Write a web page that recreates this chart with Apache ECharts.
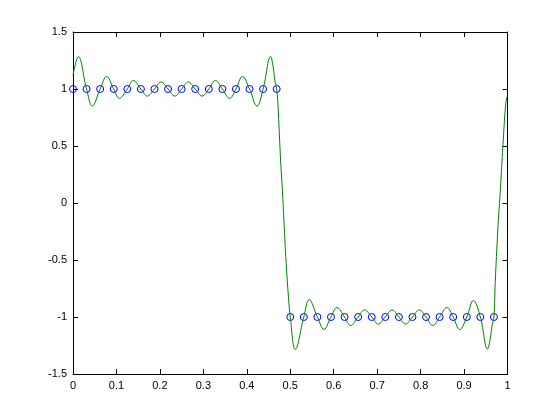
<!DOCTYPE html>
<html>
<head>
<meta charset="utf-8">
<script src="https://cdn.jsdelivr.net/npm/echarts@6/dist/echarts.min.js"></script>
<style>html,body{margin:0;padding:0;background:#fff;}#c{width:560px;height:420px;}</style>
</head>
<body>
<div id="c"></div>
<script>
// Sample points (blue circles)
var nodeX = [0, 0.03125, 0.0625, 0.09375, 0.125, 0.15625, 0.1875, 0.21875, 0.25, 0.28125, 0.3125, 0.34375, 0.375, 0.40625, 0.4375, 0.46875,
             0.5, 0.53125, 0.5625, 0.59375, 0.625, 0.65625, 0.6875, 0.71875, 0.75, 0.78125, 0.8125, 0.84375, 0.875, 0.90625, 0.9375, 0.96875];
var nodeY = [1, 1, 1, 1, 1, 1, 1, 1, 1, 1, 1, 1, 1, 1, 1, 1,
             -1, -1, -1, -1, -1, -1, -1, -1, -1, -1, -1, -1, -1, -1, -1, -1];

// Interpolating curve (green)
var curveX = [0.000, 0.0122, 0.03125, 0.0444, 0.0625, 0.0774, 0.09375, 0.1065, 0.125, 0.1387, 0.15625, 0.171, 0.1875, 0.2025, 0.21875, 0.2345,
              0.25, 0.2655, 0.28125, 0.297, 0.3125, 0.328, 0.34375, 0.3605, 0.375, 0.390, 0.40625, 0.4235, 0.4375, 0.455, 0.4605, 0.4644, 0.46875,
              0.4720, 0.4745, 0.4782, 0.4820, 0.4858, 0.4897, 0.4935, 0.4970, 0.5,
              0.5115, 0.53125, 0.5435, 0.5625, 0.5775, 0.59375, 0.6075, 0.625, 0.639, 0.65625, 0.671, 0.6875, 0.7025, 0.71875, 0.7345,
              0.75, 0.7655, 0.78125, 0.797, 0.8125, 0.828, 0.84375, 0.8605, 0.875, 0.890, 0.90625, 0.9215, 0.9375, 0.9540, 0.9600, 0.9642, 0.96875,
              0.9717, 0.9777, 0.9840, 0.9893, 0.9954, 0.9985];
var curveY = [1.12, 1.285, 1.0, 0.85, 1.0, 1.11, 1.0, 0.918, 1.0, 1.075, 1.0, 0.938, 1.0, 1.062, 1.0, 0.938,
              1.0, 1.062, 1.0, 0.938, 1.0, 1.075, 1.0, 0.918, 1.0, 1.11, 1.0, 0.85, 1.0, 1.285, 1.196, 1.08, 1.0,
              0.845, 0.64, 0.345, 0.11, -0.18, -0.47, -0.70, -0.88, -1.0,
              -1.285, -1.0, -0.848, -1.0, -1.108, -1.0, -0.918, -1.0, -1.075, -1.0, -0.938, -1.0, -1.062, -1.0, -0.938,
              -1.0, -1.062, -1.0, -0.938, -1.0, -1.075, -1.0, -0.918, -1.0, -1.11, -1.0, -0.855, -1.0, -1.28, -1.196, -1.08, -1.0,
              -0.70, -0.237, 0.143, 0.494, 0.85, 0.93];

var xTicks = {min: 0, max: 1, interval: 0.1};
var yTicks = {min: -1.5, max: 1.5, interval: 0.5};

var nodes = nodeX.map(function (x, i) { return [x, nodeY[i]]; });
var curve = curveX.map(function (x, i) { return [x, curveY[i]]; });

var font = {fontFamily: 'Liberation Sans, Arial, sans-serif', fontSize: 11, color: '#000'};
function axisBase(extra) {
  var a = {
    type: 'value',
    axisLine: {show: true, onZero: false, lineStyle: {color: '#000', width: 1}},
    axisTick: {show: true, inside: true, length: 5, lineStyle: {color: '#000'}},
    splitLine: {show: false},
    axisLabel: Object.assign({}, font)
  };
  return Object.assign(a, extra);
}

var chart = echarts.init(document.getElementById('c'), null, {renderer: 'canvas'});
chart.setOption({
  backgroundColor: '#fff',
  animation: false,
  grid: {left: 73, top: 32, right: 52.5, bottom: 46, containLabel: false},
  xAxis: [
    axisBase({min: xTicks.min, max: xTicks.max, interval: xTicks.interval, position: 'bottom',
      axisLabel: Object.assign({}, font, {margin: 6})}),
    axisBase({min: xTicks.min, max: xTicks.max, interval: xTicks.interval, position: 'top',
      axisLabel: {show: false}})
  ],
  yAxis: [
    axisBase({min: yTicks.min, max: yTicks.max, interval: yTicks.interval, position: 'left',
      axisLabel: Object.assign({}, font, {margin: 6})}),
    axisBase({min: yTicks.min, max: yTicks.max, interval: yTicks.interval, position: 'right',
      axisLabel: {show: false}})
  ],
  series: [
    {
      type: 'scatter',
      data: nodes,
      symbol: 'circle',
      symbolSize: 7,
      itemStyle: {color: 'rgba(0,0,0,0)', borderColor: '#0000ff', borderWidth: 1, opacity: 1},
      z: 2
    },
    {
      type: 'line',
      data: curve,
      smooth: 0.4,
      showSymbol: false,
      lineStyle: {color: '#008000', width: 1},
      itemStyle: {color: '#008000'},
      z: 3
    }
  ]
});
</script>
</body>
</html>
